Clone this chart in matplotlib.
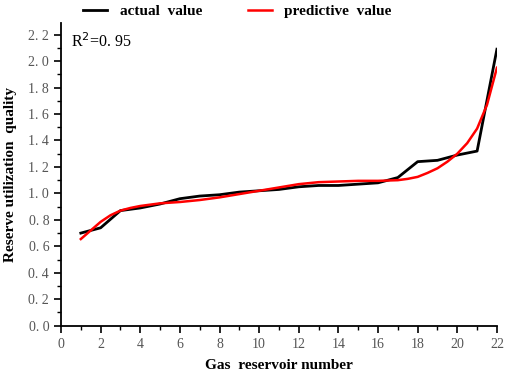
import numpy as np
import matplotlib.pyplot as plt
from matplotlib.ticker import MultipleLocator, FuncFormatter

# actual values per gas reservoir
reservoir = [1, 2, 3, 4, 5, 6, 7, 8, 9, 10, 11, 12, 13, 14, 15, 16, 17, 18, 19, 20, 21, 22]
actual = [0.70, 0.74, 0.87, 0.89, 0.92, 0.96, 0.98, 0.99, 1.01, 1.02, 1.03, 1.05,
          1.06, 1.06, 1.07, 1.08, 1.12, 1.24, 1.25, 1.29, 1.32, 2.09]

# predictive curve
pred_x = [1, 1.5, 2, 2.5, 3, 3.5, 4, 5, 6, 7, 8, 9, 10, 11, 12, 13, 14, 15, 16,
          17, 17.5, 18, 18.5, 19, 19.5, 20, 20.5, 21, 21.5, 22]
pred_y = [0.655, 0.72, 0.785, 0.835, 0.87, 0.89, 0.905, 0.925, 0.935, 0.95, 0.97,
          0.995, 1.02, 1.045, 1.07, 1.085, 1.09, 1.095, 1.095, 1.10, 1.11, 1.125,
          1.155, 1.19, 1.24, 1.30, 1.38, 1.49, 1.67, 1.95]

serif = ['Liberation Serif', 'DejaVu Serif']

fig = plt.figure(figsize=(5.05, 3.73), dpi=100)
ax = fig.add_axes([0.1208, 0.1268, 0.8632, 0.8122])

l1, = ax.plot(reservoir, actual, color='black', lw=2, label='actual  value')
l2, = ax.plot(pred_x, pred_y, color='#ff0000', lw=1.8, label='predictive  value')

ax.set_xlim(0, 22)
ax.set_ylim(0, 2.29)
ax.xaxis.set_major_locator(MultipleLocator(2))
ax.xaxis.set_minor_locator(MultipleLocator(1))
ax.yaxis.set_major_locator(MultipleLocator(0.2))
ax.yaxis.set_minor_locator(MultipleLocator(0.1))
ax.yaxis.set_major_formatter(FuncFormatter(lambda v, p: ('%.1f' % v).replace('.', '. ')))
for s in ['top', 'right']:
    ax.spines[s].set_visible(False)
for s in ['left', 'bottom']:
    ax.spines[s].set_linewidth(1.3)
ax.tick_params(which='major', direction='out', length=5, width=1.2,
               labelsize=10, labelcolor='#555555')
ax.tick_params(which='minor', direction='out', length=3, width=1)
for lab in ax.get_xticklabels() + ax.get_yticklabels():
    lab.set_family(serif)

ax.set_xlabel('Gas  reservoir number', fontfamily=serif, fontweight='bold',
              fontsize=11, labelpad=6)
ax.set_ylabel('Reserve utilization  quality', fontfamily=serif, fontweight='bold',
              fontsize=11, labelpad=8)

ax.text(0.022, 0.97, 'R$^2$=0. 95', transform=ax.transAxes, fontfamily=serif,
        fontsize=11.5, va='top', ha='left')

fig.legend(handles=[l1, l2], loc='upper center', bbox_to_anchor=(0.47, 1.025), ncol=2,
           frameon=False, prop={'family': serif, 'weight': 'bold', 'size': 11},
           handlelength=1.6, columnspacing=3)

fig.savefig('out.png', dpi=100)
